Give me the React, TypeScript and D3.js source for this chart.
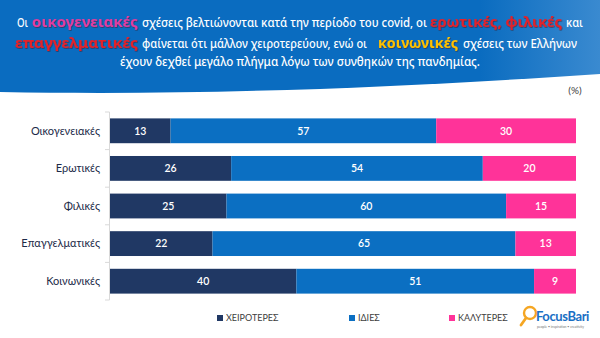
import React from "react";
import * as d3 from "d3";

const categories = ["Οικογενειακές", "Ερωτικές", "Φιλικές", "Επαγγελματικές", "Κοινωνικές"];
const worse = [13, 26, 25, 22, 40];
const same = [57, 54, 60, 65, 51];
const better = [30, 20, 15, 13, 9];
const seriesNames = ["ΧΕΙΡΟΤΕΡΕΣ", "ΙΔΙΕΣ", "ΚΑΛΥΤΕΡΕΣ"];
const seriesColors = ["#203864", "#0b6fc2", "#ff3399"];

const W = 600, H = 338;
const FONT = "Lato, 'Open Sans', sans-serif";
const TFONT = "'Noto Sans', 'Open Sans', sans-serif";

type Seg = { t: string; x0: number; x1: number; y: number; color?: string };
const titleSegs: Seg[] = [
  { t: "Οι", x0: 17, x1: 28, y: 27 },
  { t: "οικογενειακές", x0: 32, x1: 138, y: 27, color: "#e33d9f" },
  { t: "σχέσεις βελτιώνονται κατά την περίοδο του covid, οι", x0: 142, x1: 427, y: 27 },
  { t: "ερωτικές, φιλικές", x0: 430, x1: 562, y: 27, color: "#e3222c" },
  { t: "και", x0: 566, x1: 583, y: 27 },
  { t: "επαγγελματικές", x0: 15, x1: 138, y: 48, color: "#e3222c" },
  { t: "φαίνεται ότι μάλλον χειροτερεύουν, ενώ οι", x0: 142, x1: 367, y: 48 },
  { t: "κοινωνικές", x0: 378, x1: 458, y: 48, color: "#ffc000" },
  { t: "σχέσεις των Ελλήνων", x0: 463, x1: 577, y: 48 },
  { t: "έχουν δεχθεί μεγάλο πλήγμα λόγω των συνθηκών της πανδημίας.", x0: 120, x1: 480, y: 66 },
];

export default function App() {
  const x = d3.scaleLinear().domain([0, 100]).range([110, 576]);
  const y = d3.scaleBand<string>().domain(categories).range([112, 300]).paddingInner(0.34).paddingOuter(0.17);
  const series = [worse, same, better];
  const rows = categories.map((c, i) => {
    let acc = 0;
    return series.map((s, k) => {
      const x0 = acc; acc += s[i];
      return { c, k, v: s[i], x0, x1: acc };
    });
  });
  const bounds = d3.range(categories.length + 1).map((i) => 112 + (188 / categories.length) * i);
  const legendX = [217, 349, 449];

  return (
    <svg width={W} height={H} style={{ position: "absolute", left: 0, top: 0, background: "#fff" }} fontFamily={FONT}>
      <defs>
        <linearGradient id="hdr" x1="0" x2="1" y1="0" y2="0">
          <stop offset="0" stopColor="#0a6cc0" />
          <stop offset="0.8" stopColor="#0a6cc0" />
          <stop offset="1" stopColor="#3a8ad0" />
        </linearGradient>
        <filter id="sh" x="-5%" y="-20%" width="110%" height="140%">
          <feDropShadow dx="0.6" dy="0.8" stdDeviation="0.4" floodColor="#4a0a10" floodOpacity="0.6" />
        </filter>
      </defs>
      <rect width={W} height={H} fill="#fff" />
      <path d="M0,0 H600 V74 C420,86 220,96 0,92 Z" fill="url(#hdr)" />
      {titleSegs.map((s, i) => (
        <text key={i} x={s.x0} y={s.y} textLength={s.x1 - s.x0} lengthAdjust="spacingAndGlyphs"
          fontFamily={TFONT}
          fill={s.color ?? "#fff"} fontSize={s.color ? 14.5 : 12} fontWeight={s.color ? 700 : 500}
          filter={s.color ? "url(#sh)" : undefined}>{s.t}</text>
      ))}
      <text x={575} y={94} textAnchor="middle" fill="#404040" fontSize={10}>(%)</text>

      {/* axis */}
      <line x1={109.5} x2={109.5} y1={112} y2={300} stroke="#d9d9d9" />
      {bounds.map((b, i) => (
        <line key={i} x1={105} x2={109.5} y1={b} y2={b} stroke="#d9d9d9" />
      ))}
      {categories.map((c) => (
        <text key={c} x={100} y={(y(c) as number) + y.bandwidth() / 2} dy="0.35em" textAnchor="end"
          fill="#1c2a48" fontSize={11}>{c}</text>
      ))}

      {rows.map((r) =>
        r.map((s) => (
          <g key={s.c + s.k}>
            <rect x={x(s.x0)} y={y(s.c)} width={x(s.x1) - x(s.x0)} height={y.bandwidth()} fill={seriesColors[s.k]} />
            <text x={(x(s.x0) + x(s.x1)) / 2} y={(y(s.c) as number) + y.bandwidth() / 2} dy="0.36em"
              textAnchor="middle" fill="#fff" fontSize={10.5} fontWeight={600}>{s.v}</text>
          </g>
        ))
      )}

      {seriesNames.map((n, k) => (
        <g key={n}>
          <rect x={legendX[k]} y={315} width={6} height={6} fill={seriesColors[k]} />
          <text x={legendX[k] + 9} y={318} dy="0.35em" fill="#404040" fontSize={9}>{n}</text>
        </g>
      ))}

      {/* logo */}
      <g>
        <circle cx={530} cy={313} r={6} fill="none" stroke="#f5a623" strokeWidth={2.4} />
        <line x1={526} y1={318} x2={521} y2={325} stroke="#f5a623" strokeWidth={2.8} strokeLinecap="round" />
        <text x={536} y={321} fill="#1a6fc4" fontSize={13} fontWeight={700} letterSpacing={-0.4}>FocusBari</text>
        <text x={537} y={328} fill="#777" fontSize={3.4}>people • inspiration • creativity</text>
      </g>
    </svg>
  );
}
